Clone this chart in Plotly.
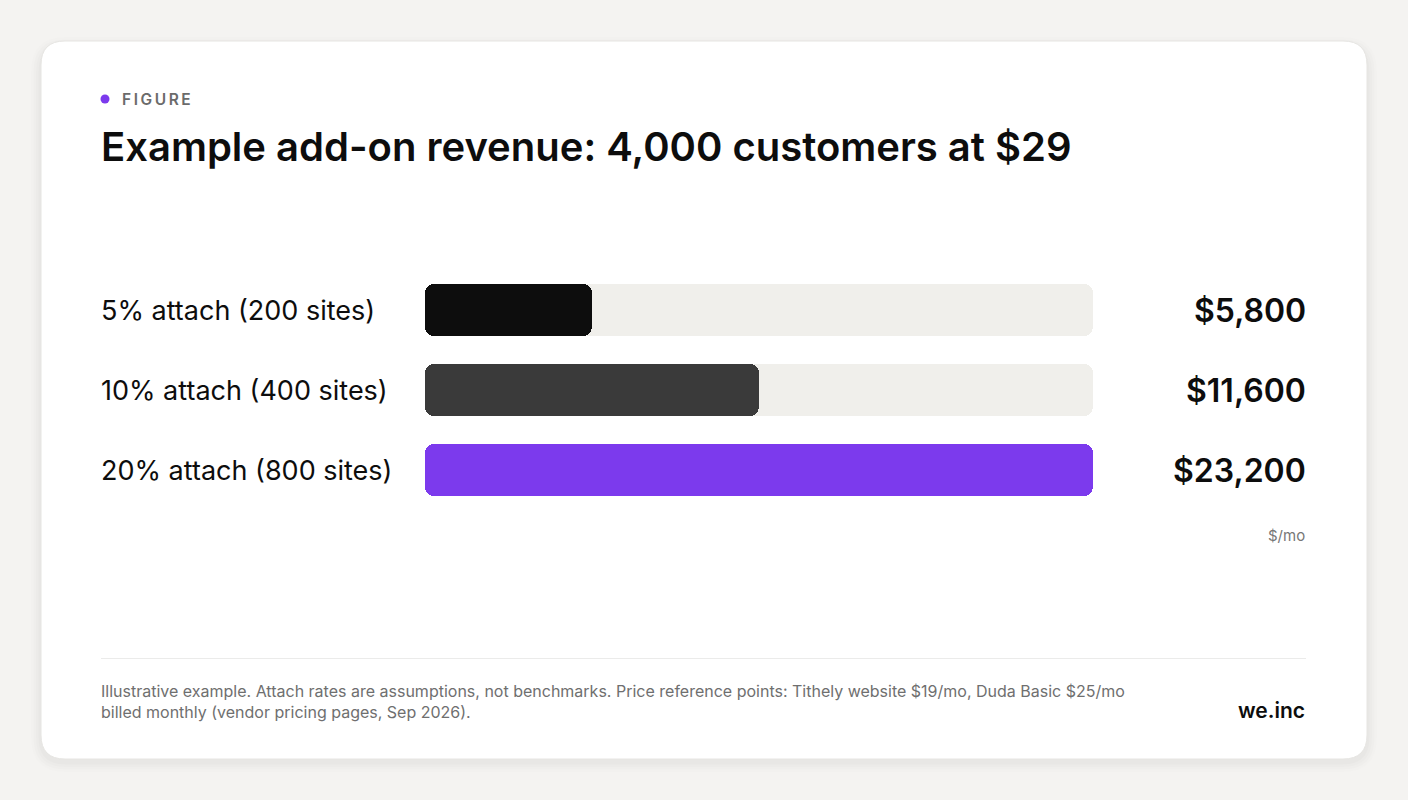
import plotly.graph_objects as go

W, H = 1408, 800

labels = ["5% attach (200 sites)", "10% attach (400 sites)", "20% attach (800 sites)"]
revenue = [5800, 11600, 23200]
bar_colors = ["#0d0d0d", "#3a3a3a", "#7c3aed"]
track_max = 23200

title = "Example add-on revenue: 4,000 customers at $29"
kicker = "FIGURE"
unit = "$/mo"
note = ("Illustrative example. Attach rates are assumptions, not benchmarks. Price reference points: "
        "Tithely website $19/mo, Duda Basic $25/mo<br>billed monthly (vendor pricing pages, Sep 2026).")
brand = "we.inc"

FONT = "Inter, Roboto, sans-serif"


def px(x):
    return x / W


def py(y):
    return 1 - y / H


def rounded_rect(x0, y0, x1, y1, r):
    pts = [
        f"M {px(x0 + r)} {py(y0)}",
        f"L {px(x1 - r)} {py(y0)}",
        f"Q {px(x1)} {py(y0)} {px(x1)} {py(y0 + r)}",
        f"L {px(x1)} {py(y1 - r)}",
        f"Q {px(x1)} {py(y1)} {px(x1 - r)} {py(y1)}",
        f"L {px(x0 + r)} {py(y1)}",
        f"Q {px(x0)} {py(y1)} {px(x0)} {py(y1 - r)}",
        f"L {px(x0)} {py(y0 + r)}",
        f"Q {px(x0)} {py(y0)} {px(x0 + r)} {py(y0)}",
        "Z",
    ]
    return " ".join(pts)


def pill(fig, values, colors):
    # an explicit base makes plotly round both ends of the bar
    fig.add_trace(go.Bar(
        y=labels, x=values, base=[0] * len(values), orientation="h", width=0.65,
        marker=dict(color=colors, cornerradius=9, line=dict(width=0)),
        hoverinfo="skip", showlegend=False,
    ))


fig = go.Figure()
pill(fig, [track_max] * len(labels), "#f0efeb")
pill(fig, revenue, bar_colors)

shapes = []
# soft shadow under the card
for i, a in enumerate([0.008, 0.01, 0.012, 0.014]):
    g = 10 - i * 2.5
    shapes.append(dict(type="path", xref="paper", yref="paper", layer="below",
                       path=rounded_rect(41 - g, 41 - g + 6, 1367 + g, 759 + g + 3, 24 + g),
                       fillcolor=f"rgba(0,0,0,{a})", line=dict(width=0)))
shapes.append(dict(type="path", xref="paper", yref="paper", layer="below",
                   path=rounded_rect(41, 41, 1367, 759, 24),
                   fillcolor="#ffffff", line=dict(color="#e6e5e2", width=1)))
# divider above the footnote
shapes.append(dict(type="line", xref="paper", yref="paper", layer="below",
                   x0=px(101), x1=px(1306), y0=py(658.5), y1=py(658.5),
                   line=dict(color="#ebebea", width=1)))
# kicker dot
shapes.append(dict(type="circle", xref="paper", yref="paper",
                   x0=px(100.5), x1=px(109.5), y0=py(94.5), y1=py(103.5),
                   fillcolor="#7c3aed", line=dict(width=0)))

annotations = []
annotations.append(dict(x=px(120), y=py(99), xref="paper", yref="paper", xanchor="left", yanchor="middle",
                        text="\u2009".join(kicker), showarrow=False,
                        font=dict(family=FONT, size=15.5, color="#6b6b6b", weight=600)))
annotations.append(dict(x=px(99), y=py(146), xref="paper", yref="paper", xanchor="left", yanchor="middle",
                        text=title, showarrow=False,
                        font=dict(family=FONT, size=40, color="#0d0d0d", weight=600)))
for lab, val in zip(labels, revenue):
    annotations.append(dict(x=px(99), y=lab, xref="paper", yref="y", xanchor="left", yanchor="middle",
                            text=lab, showarrow=False,
                            font=dict(family=FONT, size=27, color="#0d0d0d")))
    annotations.append(dict(x=px(1308), y=lab, xref="paper", yref="y", xanchor="right", yanchor="middle",
                            text=f"${val:,}", showarrow=False,
                            font=dict(family=FONT, size=32, color="#0d0d0d", weight=600)))
annotations.append(dict(x=px(1307), y=py(535), xref="paper", yref="paper", xanchor="right", yanchor="middle",
                        text=unit, showarrow=False,
                        font=dict(family=FONT, size=15, color="#777777")))
annotations.append(dict(x=px(99), y=py(701), xref="paper", yref="paper", xanchor="left", yanchor="middle",
                        text=note, showarrow=False, align="left",
                        font=dict(family=FONT, size=16, color="#6f6f6f")))
annotations.append(dict(x=px(1307), y=py(710), xref="paper", yref="paper", xanchor="right", yanchor="middle",
                        text=brand, showarrow=False,
                        font=dict(family=FONT, size=21, color="#0d0d0d", weight=600)))

fig.update_layout(
    width=W, height=H,
    margin=dict(l=0, r=0, t=0, b=0),
    paper_bgcolor="#f4f3f1",
    plot_bgcolor="rgba(0,0,0,0)",
    barmode="overlay",
    bargap=0,
    shapes=shapes,
    annotations=annotations,
    xaxis=dict(domain=[px(425), px(1093)], range=[0, track_max], visible=False, fixedrange=True),
    yaxis=dict(domain=[py(510), py(270)], categoryorder="array", categoryarray=labels,
               autorange="reversed", visible=False, fixedrange=True),
    showlegend=False,
)

fig.write_html("out.html", config=dict(displayModeBar=False),
               post_script="document.body.style.margin='0';document.body.style.background='#f4f3f1';")
